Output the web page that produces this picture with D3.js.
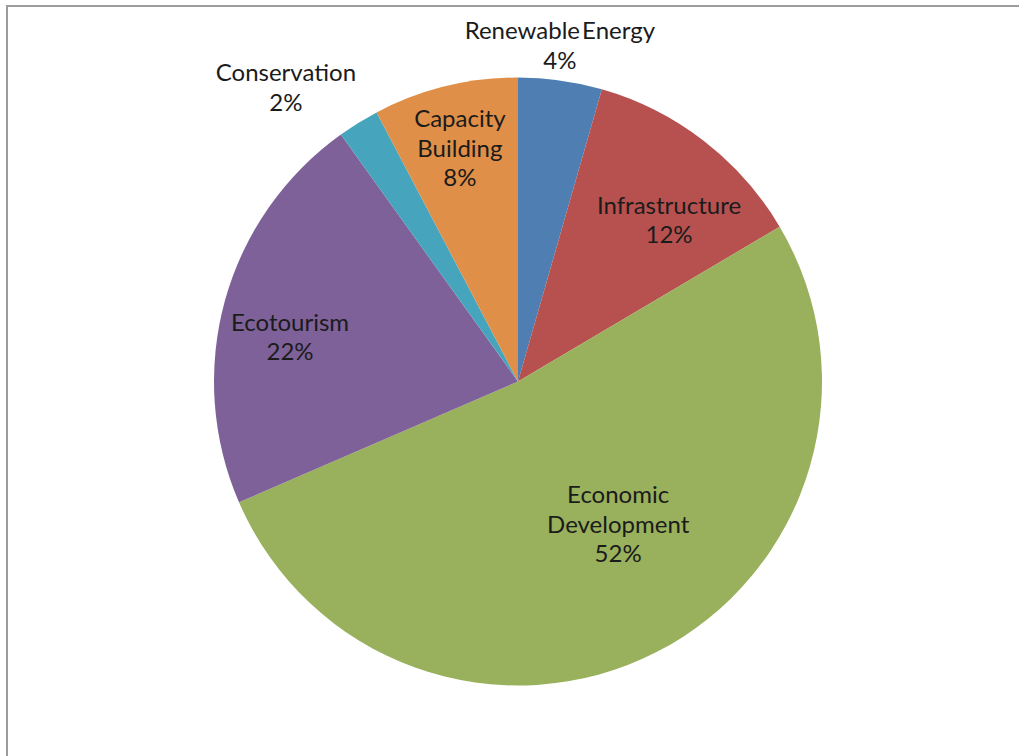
<html>
<head>
<script src="https://d3js.org/d3.v7.min.js"></script>
<style>
  body { margin: 0; background: white; }
  text { font-family: Lato, "Open Sans", sans-serif; fill: #1b1b1b; }
</style>
</head>
<body>
<svg id="chart" width="1019" height="756"></svg>
<script>
  // slice data, clockwise from 12 o'clock
  const categories = ["Renewable Energy", "Infrastructure", "Economic Development", "Ecotourism", "Conservation", "Capacity Building"];
  const shares = [4.45, 12.05, 52.0, 21.6, 2.2, 7.7];
  const pctLabels = ["4%", "12%", "52%", "22%", "2%", "8%"];
  const colors = ["#4f7fb2", "#b65150", "#99b05c", "#7d6198", "#46a5bc", "#e08f48"];

  // how each label is broken into lines
  const labelLines = [["Renewable Energy"], ["Infrastructure"], ["Economic", "Development"], ["Ecotourism"], ["Conservation"], ["Capacity", "Building"]];
  // label placement: [angle in degrees clockwise from top, radius as fraction of pie radius]
  const labelPolar = [[7.1, 1.114], [43.1, 0.727], [144.9, 0.573], [-79.0, 0.764], [-38.3, 1.232], [-14.0, 0.79]];

  let svg = d3.select("svg#chart");
  const cx = 518, cy = 381.5, radius = 304;

  // chart area frame
  svg.append("rect")
    .attr("x", 7).attr("y", 6)
    .attr("width", 1030).attr("height", 770)
    .attr("fill", "white")
    .attr("stroke", "#9c9c9c")
    .attr("stroke-width", 2);

  let pie = d3.pie().sort(null).value(d => d);
  let arcs = pie(shares);
  let arc = d3.arc().innerRadius(0).outerRadius(radius);

  let g = svg.append("g").attr("transform", "translate(" + cx + "," + cy + ")");

  g.selectAll("path.slice")
    .data(arcs)
    .enter().append("path")
    .attr("class", "slice")
    .attr("d", arc)
    .attr("fill", (d, i) => colors[i]);

  // labels
  const lineH = 29.5;
  arcs.forEach((d, i) => {
    let a = labelPolar[i][0] * Math.PI / 180;
    let r = labelPolar[i][1] * radius;
    let x = Math.sin(a) * r;
    let y = -Math.cos(a) * r;
    let lines = labelLines[i].concat([pctLabels[i]]);
    let firstBase = y + 8.5 - (lines.length - 1) * lineH / 2;
    let t = g.append("text")
      .attr("text-anchor", "middle")
      .style("font-size", "24px");
    lines.forEach((ln, j) => {
      t.append("tspan")
        .attr("x", x)
        .attr("y", firstBase + j * lineH)
        .attr("word-spacing", ln == "Renewable Energy" ? "-4px" : null)
        .text(ln);
    });
  });
</script>
</body>
</html>
